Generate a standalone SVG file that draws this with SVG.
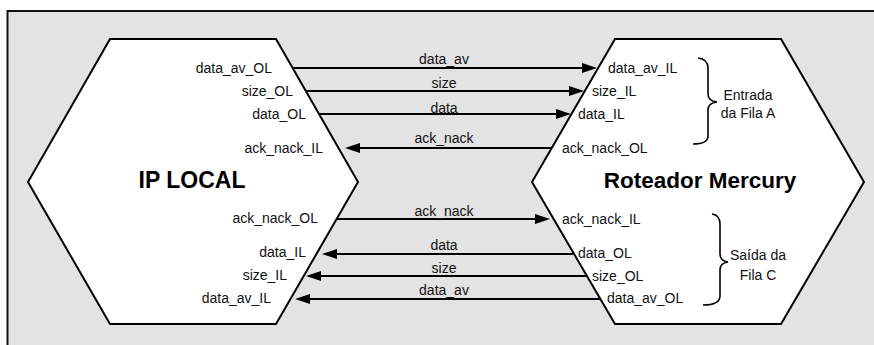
<svg xmlns="http://www.w3.org/2000/svg" width="874" height="345" viewBox="0 0 874 345">
  <style>
    .hex { fill: #ffffff; stroke: #000000; stroke-width: 2; stroke-linejoin: miter; }
    .lbl { font-family: "Liberation Sans", Arial, sans-serif; font-size: 14px; fill: #111111; }
    .end { text-anchor: end; }
    .mid { text-anchor: middle; }
    .title { font-family: "Liberation Sans", Arial, sans-serif; font-weight: bold; fill: #000000; text-anchor: middle; }
    .wire { stroke: #000000; stroke-width: 2; fill: none; marker-end: url(#head); }
    .brace { stroke: #000000; stroke-width: 1.6; fill: none; }
  </style>
  <defs>
    <marker id="head" markerUnits="userSpaceOnUse" markerWidth="15" markerHeight="11" refX="11" refY="5" orient="auto">
      <path d="M0,0 L15,5 L0,10 z" fill="#000000"/>
    </marker>
  </defs>

  <!-- panel -->
  <rect x="0" y="0" width="874" height="345" fill="#ffffff"/>
  <rect x="7.5" y="11" width="890" height="360" fill="#e3e3e3" stroke="#111111" stroke-width="2"/>

  <!-- local IP core -->
  <g id="ip-local">
    <polygon class="hex" points="110,39 276,39 358,182 276,324 110,324 28,182"/>
    <text class="title" x="192" y="188" font-size="23">IP LOCAL</text>
    <text class="lbl end" x="272" y="73">data_av_OL</text>
    <text class="lbl end" x="293" y="96">size_OL</text>
    <text class="lbl end" x="306" y="119">data_OL</text>
    <text class="lbl end" x="323" y="153">ack_nack_IL</text>
    <text class="lbl end" x="318" y="223">ack_nack_OL</text>
    <text class="lbl end" x="306" y="257">data_IL</text>
    <text class="lbl end" x="287" y="280">size_IL</text>
    <text class="lbl end" x="271" y="303">data_av_IL</text>
  </g>

  <!-- Mercury router -->
  <g id="roteador-mercury">
    <polygon class="hex" points="615,39 781,39 864,182 781,324 615,324 532,182"/>
    <text class="title" x="700" y="188" font-size="22.5">Roteador Mercury</text>
    <text class="lbl" x="608" y="73">data_av_IL</text>
    <text class="lbl" x="592" y="96">size_IL</text>
    <text class="lbl" x="578" y="119">data_IL</text>
    <text class="lbl" x="562" y="153">ack_nack_OL</text>
    <text class="lbl" x="562" y="224">ack_nack_IL</text>
    <text class="lbl" x="578" y="258">data_OL</text>
    <text class="lbl" x="592" y="281">size_OL</text>
    <text class="lbl" x="607" y="303">data_av_OL</text>
  </g>

  <!-- input queue A bracket -->
  <g id="fila-a">
    <path class="brace" d="M698,58 Q708,59 708,68 L708,94 Q708,101 717,102 Q708,103 708,110 L708,136 Q708,144 693,144"/>
    <text class="lbl mid" x="748" y="100" font-size="13.5">Entrada</text>
    <text class="lbl mid" x="748" y="118" font-size="13.5">da Fila A</text>
  </g>

  <!-- output queue C bracket -->
  <g id="fila-c">
    <path class="brace" d="M712,214 Q720,215 720,224 L720,254 Q720,261 728,262 Q720,263 720,270 L720,296 Q720,305 703,305"/>
    <text class="lbl mid" x="758" y="260" font-size="13.5">Saída da</text>
    <text class="lbl mid" x="758" y="280" font-size="13.5">Fila C</text>
  </g>

  <!-- signals -->
  <g id="connectors">
    <line class="wire" x1="292" y1="68" x2="593" y2="68"/>
    <line class="wire" x1="306" y1="91" x2="580" y2="91"/>
    <line class="wire" x1="319" y1="114" x2="567" y2="114"/>
    <line class="wire" x1="552" y1="148" x2="349" y2="148"/>
    <line class="wire" x1="337" y1="219" x2="546" y2="219"/>
    <line class="wire" x1="573" y1="254" x2="326" y2="254"/>
    <line class="wire" x1="587" y1="276" x2="310" y2="276"/>
    <line class="wire" x1="600" y1="299" x2="299" y2="299"/>

    <text class="lbl mid" x="444" y="64">data_av</text>
    <text class="lbl mid" x="444" y="88">size</text>
    <text class="lbl mid" x="444" y="113">data</text>
    <text class="lbl mid" x="444" y="143">ack_nack</text>
    <text class="lbl mid" x="444" y="216">ack_nack</text>
    <text class="lbl mid" x="444" y="250">data</text>
    <text class="lbl mid" x="444" y="273">size</text>
    <text class="lbl mid" x="444" y="295">data_av</text>
  </g>
</svg>
